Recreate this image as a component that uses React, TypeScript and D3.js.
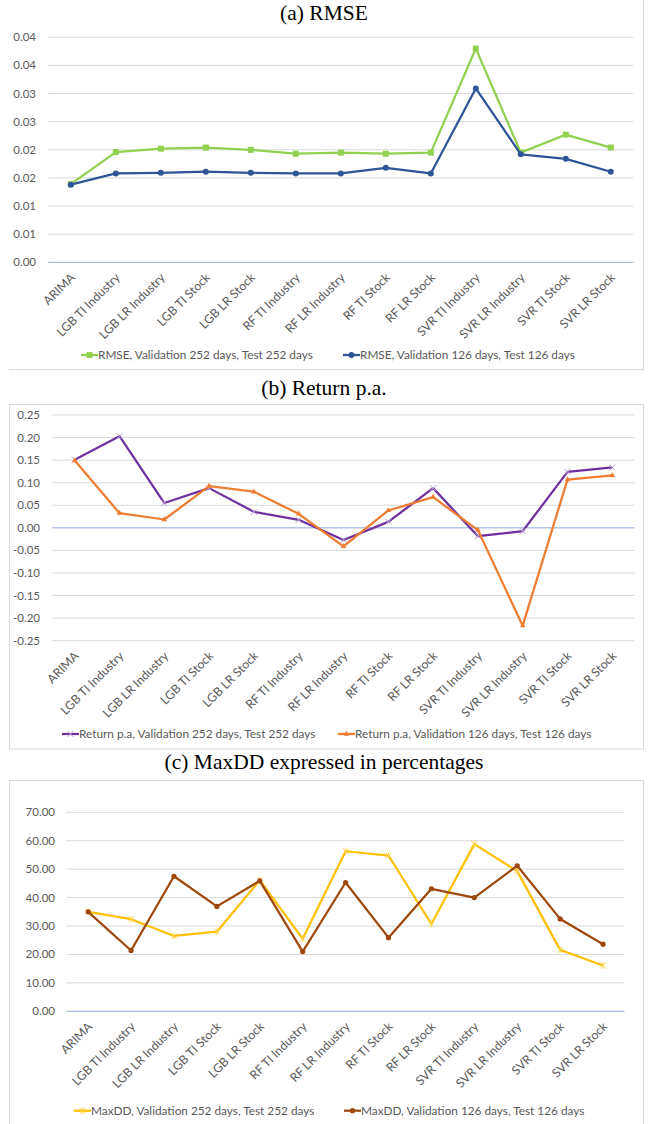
import { useEffect, useRef } from "react";
import * as d3 from "d3";

const categories = [
  "ARIMA",
  "LGB TI Industry",
  "LGB LR Industry",
  "LGB TI Stock",
  "LGB LR Stock",
  "RF TI Industry",
  "RF LR Industry",
  "RF TI Stock",
  "RF LR Stock",
  "SVR TI Industry",
  "SVR LR Industry",
  "SVR TI Stock",
  "SVR LR Stock",
];

// (a) RMSE
const rmse252 = [0.0139, 0.0196, 0.0202, 0.0204, 0.02, 0.0193, 0.0195, 0.0193, 0.0195, 0.038, 0.0195, 0.0227, 0.0204];
const rmse126 = [0.0138, 0.0158, 0.0159, 0.0161, 0.0159, 0.0158, 0.0158, 0.0168, 0.0158, 0.0309, 0.0192, 0.0184, 0.0161];
const rmseTickLabels = ["0.00", "0.01", "0.01", "0.02", "0.02", "0.03", "0.03", "0.04", "0.04"];

// (b) Return p.a.
const ret252 = [0.151, 0.203, 0.055, 0.088, 0.0355, 0.0178, -0.027, 0.0133, 0.088, -0.0185, -0.0074, 0.124, 0.134];
const ret126 = [0.149, 0.0325, 0.0185, 0.0925, 0.08, 0.031, -0.041, 0.0385, 0.068, -0.005, -0.2167, 0.107, 0.116];

// (c) MaxDD in %
const dd252 = [35.0, 32.4, 26.5, 28.0, 46.1, 25.5, 56.3, 54.8, 30.7, 58.8, 49.3, 21.6, 16.1];
const dd126 = [35.0, 21.4, 47.5, 36.9, 45.9, 21.0, 45.3, 25.9, 43.1, 40.0, 51.2, 32.5, 23.6];

const FONT = "Lato, 'Open Sans', sans-serif";
const GRID = "#d9d9d9";
const ZERO = "#8faadc";
const TEXT = "#595959";

type Series = { name: string; values: number[]; color: string; marker: string; markColor: string };

type Panel = {
  title: string;
  titleY: number;
  xRange: [number, number];
  yRange: [number, number];
  domain: [number, number];
  tickCount: number;
  tickFmt: (d: number, i: number) => string;
  labelRight: number;
  legendY: number;
  legendX: number[];
  series: Series[];
  box: { x0: number; y0: number; x1: number; y1: number; sides: string };
};

const panels: Panel[] = [
  {
    title: "(a) RMSE",
    titleY: 19.5,
    xRange: [48.3, 633.3],
    yRange: [262.3, 37.3],
    domain: [0, 0.04],
    tickCount: 8,
    tickFmt: (_d, i) => rmseTickLabels[i],
    labelRight: 36,
    legendY: 355,
    legendX: [81, 343],
    series: [
      { name: "RMSE, Validation 252 days, Test 252 days", values: rmse252, color: "#92d050", marker: "square", markColor: "#92d050" },
      { name: "RMSE, Validation 126 days, Test 126 days", values: rmse126, color: "#2f5597", marker: "circle", markColor: "#2f5597" },
    ],
    box: { x0: 9.5, y0: -2, x1: 643.5, y1: 369.5, sides: "br" },
  },
  {
    title: "(b) Return p.a.",
    titleY: 395,
    xRange: [52.3, 634.7],
    yRange: [640.7, 415],
    domain: [-0.25, 0.25],
    tickCount: 10,
    tickFmt: (d) => d.toFixed(2),
    labelRight: 40,
    legendY: 734,
    legendX: [62, 338],
    series: [
      { name: "Return p.a, Validation 252 days, Test 252 days", values: ret252, color: "#7030a0", marker: "x", markColor: "#b9a3d3" },
      { name: "Return p.a, Validation 126 days, Test 126 days", values: ret126, color: "#ed7d31", marker: "triangle", markColor: "#ed7d31" },
    ],
    box: { x0: 9.5, y0: 404.5, x1: 643.5, y1: 749, sides: "tlbr" },
  },
  {
    title: "(c) MaxDD expressed in percentages",
    titleY: 768.5,
    xRange: [66.7, 624.5],
    yRange: [1011.3, 812.3],
    domain: [0, 70],
    tickCount: 7,
    tickFmt: (d) => d.toFixed(2),
    labelRight: 55,
    legendY: 1110.7,
    legendX: [74, 344],
    series: [
      { name: "MaxDD, Validation 252 days, Test 252 days", values: dd252, color: "#ffc000", marker: "star", markColor: "#ffd54f" },
      { name: "MaxDD, Validation 126 days, Test 126 days", values: dd126, color: "#9e480e", marker: "diamond", markColor: "#9e480e" },
    ],
    box: { x0: 9.5, y0: 780.5, x1: 643.5, y1: 1140, sides: "tlbr" },
  },
];

function drawMarker(g: any, kind: string, x: number, y: number, color: string) {
  if (kind === "square") {
    g.append("rect").attr("x", x - 3).attr("y", y - 3).attr("width", 6).attr("height", 6).attr("fill", color);
  } else if (kind === "circle") {
    g.append("circle").attr("cx", x).attr("cy", y).attr("r", 3).attr("fill", color);
  } else if (kind === "diamond") {
    g.append("circle").attr("cx", x).attr("cy", y).attr("r", 2.6).attr("fill", color);
  } else if (kind === "triangle") {
    g.append("path").attr("d", d3.symbol(d3.symbolTriangle, 14)()).attr("transform", `translate(${x},${y})`).attr("fill", color);
  } else if (kind === "x") {
    g.append("path")
      .attr("d", `M${x - 3},${y - 3}L${x + 3},${y + 3}M${x - 3},${y + 3}L${x + 3},${y - 3}`)
      .attr("stroke", color).attr("stroke-width", 1);
  } else if (kind === "star") {
    g.append("path")
      .attr("d", `M${x - 3},${y - 3}L${x + 3},${y + 3}M${x - 3},${y + 3}L${x + 3},${y - 3}M${x},${y - 3.5}L${x},${y + 3.5}`)
      .attr("stroke", color).attr("stroke-width", 1);
  }
}

function drawPanel(svg: any, p: Panel) {
  const g = svg.append("g");
  const x = d3.scalePoint<string>().domain(categories).range(p.xRange).padding(0.5);
  const y = d3.scaleLinear().domain(p.domain).range(p.yRange);

  // frame
  const b = p.box;
  const fr = g.append("g").attr("stroke", GRID).attr("fill", "none");
  if (b.sides.includes("t")) fr.append("line").attr("x1", b.x0).attr("x2", b.x1).attr("y1", b.y0).attr("y2", b.y0);
  if (b.sides.includes("l")) fr.append("line").attr("x1", b.x0).attr("x2", b.x0).attr("y1", b.y0).attr("y2", b.y1);
  if (b.sides.includes("b")) fr.append("line").attr("x1", b.x0).attr("x2", b.x1).attr("y1", b.y1).attr("y2", b.y1);
  if (b.sides.includes("r")) fr.append("line").attr("x1", b.x1).attr("x2", b.x1).attr("y1", b.y0).attr("y2", b.y1);

  // title
  g.append("text")
    .attr("x", 324)
    .attr("y", p.titleY)
    .attr("text-anchor", "middle")
    .style("font-family", "'Liberation Serif', 'Times New Roman', serif")
    .style("font-size", "21.5px")
    .attr("fill", "#000")
    .text(p.title);

  // gridlines + y labels
  const ticks = y.ticks(p.tickCount);
  ticks.forEach((t, i) => {
    g.append("line")
      .attr("x1", p.xRange[0]).attr("x2", p.xRange[1])
      .attr("y1", y(t)).attr("y2", y(t))
      .attr("stroke", Math.abs(t) < 1e-12 ? ZERO : GRID)
      .attr("stroke-width", 1);
    g.append("text")
      .attr("x", p.labelRight)
      .attr("y", y(t))
      .attr("dy", "0.35em")
      .attr("text-anchor", "end")
      .style("font-family", FONT)
      .style("font-size", "11.5px")
      .attr("fill", TEXT)
      .text(p.tickFmt(t, i));
  });

  // x labels (bottom of plot = y(domain min))
  const axisY = p.yRange[0];
  categories.forEach((c) => {
    g.append("text")
      .attr("transform", `translate(${(x(c) as number) + 5},${axisY + 16}) rotate(-45)`)
      .attr("text-anchor", "end")
      .style("font-family", FONT)
      .style("font-size", "12.2px")
      .attr("fill", TEXT)
      .text(c);
  });

  // lines
  const line = d3.line<number>().x((_d, i) => x(categories[i]) as number).y((d) => y(d));
  p.series.forEach((s) => {
    g.append("path")
      .attr("d", line(s.values))
      .attr("fill", "none")
      .attr("stroke", s.color)
      .attr("stroke-width", 2.25)
      .attr("stroke-linejoin", "round");
    const mg = g.append("g");
    s.values.forEach((v, i) => drawMarker(mg, s.marker, x(categories[i]) as number, y(v), s.markColor));
  });

  // legend
  p.series.forEach((s, k) => {
    const lx = p.legendX[k];
    g.append("line")
      .attr("x1", lx).attr("x2", lx + 17)
      .attr("y1", p.legendY).attr("y2", p.legendY)
      .attr("stroke", s.color).attr("stroke-width", 2.25);
    drawMarker(g, s.marker, lx + 8.5, p.legendY, s.markColor);
    g.append("text")
      .attr("x", lx + 17)
      .attr("y", p.legendY)
      .attr("dy", "0.35em")
      .style("font-family", FONT)
      .style("font-size", "11.8px")
      .attr("fill", TEXT)
      .text(s.name);
  });
}

export default function App() {
  const svgRef = useRef<SVGSVGElement>(null);

  useEffect(() => {
    if (!svgRef.current) return;
    const svg = d3.select(svgRef.current);
    svg.selectAll("*").remove();
    svg.append("rect").attr("width", 649).attr("height", 1124).attr("fill", "#fff");
    panels.forEach((p) => drawPanel(svg, p));
  }, []);

  return (
    <svg
      ref={svgRef}
      width={649}
      height={1124}
      style={{ position: "absolute", left: 0, top: 0, display: "block" }}
    />
  );
}
